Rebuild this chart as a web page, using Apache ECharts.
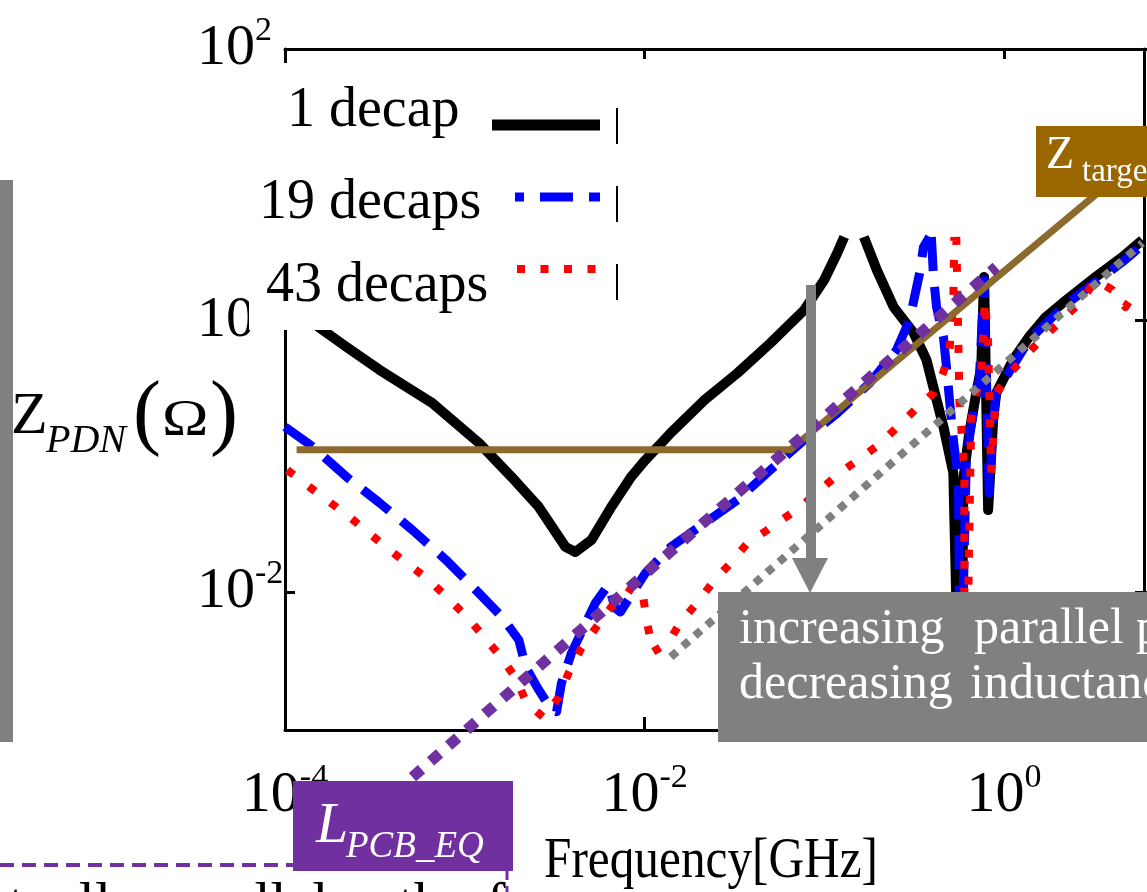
<!DOCTYPE html>
<html>
<head>
<meta charset="utf-8">
<title>Z_PDN vs frequency</title>
<script src="https://cdn.jsdelivr.net/npm/echarts@6.0.0/dist/echarts.min.js"></script>
<style>
  html, body { margin: 0; padding: 0; background: #fff; }
  #chart { width: 1147px; height: 892px; }
</style>
</head>
<body>
<div id="chart"></div>
<script>
'use strict'

//------------------- Data (frequency in GHz, impedance in ohm) -------------------//
const seriesNames = ['1 decap', '19 decaps', '43 decaps']

const decap1Freq = [1.00e-4, 1.62e-4, 2.20e-4, 3.36e-4, 6.59e-4, 1.20e-3, 1.82e-3, 2.58e-3, 3.63e-3, 4.12e-3,
  5.06e-3, 6.53e-3, 8.41e-3, 1.01e-2, 1.40e-2, 2.16e-2, 3.29e-2, 5.01e-2, 7.73e-2, 0.0998,
  0.118, 0.129, 0.145, 0.166, 0.196, 0.243, 0.314, 0.370, 0.460, 0.522,
  0.528, 0.542, 0.557, 0.586, 0.593, 0.640, 0.700, 0.746, 0.774, 0.815,
  0.869, 0.904, 1.122, 1.374, 1.706, 2.118, 3.228, 4.550, 5.875]
const decap1Z = [1.365, 0.865, 0.649, 0.440, 0.252, 0.128, 0.0721, 0.0434, 0.0221, 0.0203,
  0.0248, 0.0434, 0.0721, 0.0959, 0.152, 0.265, 0.418, 0.693, 1.213, 2.014,
  3.177, 4.169, null, 4.169, 2.382, 1.276, 0.822, 0.521, 0.168, 0.0771,
  0.0392, 0.00899, 0.00355, 0.00891, 0.0686, 0.152, 0.298, 0.462, 2.118, 0.0412,
  0.189, 0.298, 0.521, 0.767, 1.076, 1.365, 2.118, 2.972, 3.963]

const decap19Freq = [1.00e-4, 1.43e-4, 2.20e-4, 3.36e-4, 5.11e-4, 7.87e-4, 1.20e-3, 1.61e-3, 2.00e-3, 2.18e-3,
  2.58e-3, 3.04e-3, 3.24e-3, 3.45e-3, 3.92e-3, 5.32e-3, 6.28e-3, 6.87e-3, 7.33e-3, 1.01e-2,
  1.40e-2, 2.16e-2, 3.29e-2, 5.01e-2, 7.73e-2, 0.118, 0.179, 0.252, 0.298, 0.339,
  0.356, 0.385, 0.389, 0.394, 0.405, 0.421, 0.460, 0.478, 0.497, 0.522,
  0.557, 0.564, 0.578, 0.593, 0.617, 0.673, 0.728, 0.774, 0.826, 0.869,
  0.904, 1.374, 2.118, 3.228, 4.550, 5.875]
const decap19Z = [0.168, 0.120, 0.0721, 0.0465, 0.0294, 0.0177, 0.0101, 0.00676, 0.00457, 0.00290,
  0.00197, 0.00140, 0.00136, 0.00221, 0.00367, 0.00855, 0.0116, 0.00787, 0.00735, 0.0142,
  0.0221, 0.0331, 0.0489, 0.0811, 0.135, 0.212, 0.353, 0.617, 1.023, 2.265,
  3.516, 4.169, null, 4.169, 2.118, 1.276, 0.767, 0.462, 0.265, 0.135,
  0.0686, 0.0101, 0.00457, 0.0101, 0.101, 0.212, 0.372, 2.014, 0.0550, 0.189,
  0.298, 0.729, 1.276, 1.945, 2.729, 3.639]

const decap43Freq = [1.03e-4, 1.37e-4, 2.29e-4, 3.81e-4, 6.34e-4, 1.03e-3, 1.59e-3, 1.92e-3, 2.21e-3, 2.74e-3,
  3.32e-3, 3.78e-3, 4.46e-3, 5.40e-3, 6.53e-3, 7.60e-3, 8.63e-3, 9.82e-3, 1.04e-2, 1.11e-2,
  1.35e-2, 1.59e-2, 1.98e-2, 2.45e-2, 3.01e-2, 3.74e-2, 4.82e-2, 7.35e-2, 0.122, 0.201,
  0.318, 0.405, 0.460, 0.497, 0.522, 0.528, 0.535, 0.542, 0.557, 0.564,
  0.601, 0.601, 0.601, 0.617, 0.632, 0.656, 0.700, 0.746, 0.783, 0.815,
  0.847, 0.881, 0.904, 1.094, 1.358, 1.663, 2.148, 2.667, 3.228, 4.009,
  4.732, 5.585]
const decap43Z = [0.0811, 0.0608, 0.0366, 0.0210, 0.0126, 0.00676, 0.00344, 0.00241, 0.00158, 0.00124,
  0.00172, 0.00262, 0.00400, 0.00570, 0.00800, 0.00899, 0.0116, 0.00948, 0.00590, 0.00374,
  0.00436, 0.00621, 0.00871, 0.0126, 0.0168, 0.0236, 0.0294, 0.0434, 0.0771, 0.124,
  0.223, 0.298, 0.425, 0.617, 1.435, 4.169, null, 4.169, 0.693, 0.265,
  0.0771, 0.0294, 0.0101, 0.00457, 0.0101, 0.189, 0.298, 0.418, 1.435, 0.693,
  0.0771, 0.189, 0.298, 0.425, 0.586, 0.767, 1.059, 1.387, 2.014, 1.702,
  1.276, 1.791]

// Z_target line, L_PCB_EQ line, and the grey slope reference
const targetFreq = [1.16e-4, 6.47e-2, 4.17]
const targetZ = [0.114, 0.114, 11.3]
const pcbFreq = [4.06e-4, 0.904]
const pcbZ = [3.45e-4, 2.51]
const slopeFreq = [1.40e-2, 5.875]
const slopeZ = [3.44e-3, 3.77]

// tick labels
const freqTicks = [1e-4, 1e-2, 1]
const zTicks = [1e-2, 1, 1e2]

//------------------- Helpers -------------------//
const serif = 'Liberation Serif, Times New Roman, serif'

const toPoints = (freq, z) => freq.map((f, i) => [f, z[i] == null ? '-' : z[i]])

const powLabel = ticks => v => {
  const hit = ticks.find(t => Math.abs(Math.log10(v) - Math.log10(t)) < 1e-6)
  if (hit == null) return ''
  return `{b|10}{s|${Math.round(Math.log10(hit))}}`
}

const labelRich = {
  b: {fontFamily: serif, fontSize: 58, lineHeight: 70, color: '#000'},
  s: {fontFamily: serif, fontSize: 34, lineHeight: 14, verticalAlign: 'top', color: '#000'},
}

const axisLine = {show: true, onZero: false, lineStyle: {color: '#000', width: 3}}
const tick = len => ({show: true, inside: true, length: len, lineStyle: {color: '#000', width: 3}})

const text = (str, x, y, size, extra = {}) => ({
  type: 'text', x, y, z: extra.z || 110, silent: true,
  scaleX: extra.scaleX || 1,
  style: {
    text: str,
    fill: extra.color || '#000',
    font: `${extra.italic ? 'italic ' : ''}${size}px ${serif}`,
    textAlign: 'left', textVerticalAlign: 'middle', align: 'left', verticalAlign: 'middle',
  },
})
const rect = (x, y, w, h, fill, z) => ({type: 'rect', z, silent: true, shape: {x, y, width: w, height: h}, style: {fill}})
const seg = (x1, y1, x2, y2, style, z = 110) => ({
  type: 'line', z, silent: true, shape: {x1, y1, x2, y2},
  style: Object.assign({lineCap: 'butt'}, style),
})

//------------------- Annotations -------------------//
const legendRows = [
  {tx: 287, ty: 111, x1: 492, x2: 600, y: 125, stroke: '#000', width: 11},
  {tx: 259, ty: 203, x1: 515, x2: 600, y: 197, stroke: '#0000ff', width: 9, dash: [33, 16], offset: 24},
  {tx: 266, ty: 286, x1: 517, x2: 597, y: 269, stroke: '#ff0000', width: 8, dash: [8, 15.5]},
]

const white = {color: '#fff', z: 131}

const graphics = [
  rect(0, 180, 13, 562, '#808080', 100),
  // legend box
  rect(249, 63, 367, 267, '#ffffff', 100),
  seg(617, 108, 617, 300, {stroke: '#000', lineWidth: 2, lineDash: [36, 42]}),
  ...legendRows.map((r, i) => text(seriesNames[i], r.tx, r.ty, 56)),
  ...legendRows.map(r => seg(r.x1, r.y, r.x2, r.y, {
    stroke: r.stroke, lineWidth: r.width, lineDash: r.dash || null, lineDashOffset: r.offset || 0,
  })),
  // y axis name
  text('Z', 11, 417, 60),
  text('PDN', 46, 441, 40, {italic: true}),
  text('(', 133, 417, 84),
  text('\u03A9', 162, 421, 50, {scaleX: 1.25}),
  text(')', 210, 417, 84),
  // x axis name
  text('Frequency[GHz]', 544, 862, 58, {scaleX: 0.85}),
  // arrow
  rect(806, 285, 10, 275, '#808080', 120),
  {type: 'polygon', z: 120, silent: true, shape: {points: [[792, 558], [828, 558], [810, 593]]}, style: {fill: '#808080'}},
  // grey note box
  rect(718, 592, 440, 150, '#808080', 130),
  text('increasing', 739, 630, 50, white),
  text('parallel', 974, 630, 50, white),
  text('paths', 1136, 630, 50, white),
  text('decreasing', 739, 685, 50, white),
  text('inductance', 970, 685, 50, white),
  // Z_target box
  rect(1036, 126, 120, 71, '#996600', 130),
  text('Z', 1046, 156, 46, white),
  text('target', 1082, 172, 33, white),
  // L_PCB_EQ box
  seg(0, 865, 293, 865, {stroke: '#7030a0', lineWidth: 4, lineDash: [14, 8]}),
  seg(507, 871, 507, 892, {stroke: '#7030a0', lineWidth: 3, lineDash: [9, 6]}),
  rect(293, 781, 220, 90, '#7030a0', 130),
  text('L', 316, 827, 58, {color: '#fff', italic: true, z: 131}),
  text('PCB_EQ', 346, 847, 37, {color: '#fff', italic: true, z: 131}),
  // caption cut off by the bottom edge
  text('tually parallel path of', 8, 907, 58),
]

//------------------- Chart -------------------//
const chart = echarts.init(document.getElementById('chart'))

const logX = {type: 'log', logBase: 10, min: 1e-4, max: 6, interval: 2, splitLine: {show: false}}
const logY = {type: 'log', logBase: 10, min: 1e-3, max: 100, splitLine: {show: false}}
const logYTicks = {type: 'log', logBase: 10, min: 1e-2, max: 100, interval: 2, splitLine: {show: false}}

const tickLabel = ticks => ({
  color: '#000', fontFamily: serif, fontSize: 58,
  formatter: powLabel(ticks), rich: labelRich,
})

chart.setOption({
  animation: false,
  backgroundColor: '#fff',
  textStyle: {fontFamily: serif},
  grid: [
    {left: 285, top: 49, width: 864, height: 681},
    // same plot, cut at 10^-2 so the decade ticks fall on even powers
    {left: 285, top: 49, width: 864, height: 543},
  ],
  xAxis: [
    {...logX, gridIndex: 0, position: 'bottom', axisLine, axisTick: tick(13),
      axisLabel: {...tickLabel(freqTicks), margin: 31}},
    {...logX, gridIndex: 0, position: 'top', axisLine, axisTick: tick(10), axisLabel: {show: false}},
    {...logX, gridIndex: 1, show: false},
  ],
  yAxis: [
    {...logY, gridIndex: 0, position: 'left', axisLine, axisTick: {show: false}, axisLabel: {show: false}},
    {...logY, gridIndex: 0, position: 'right', axisLine, axisTick: {show: false}, axisLabel: {show: false}},
    {...logYTicks, gridIndex: 1, position: 'left', axisLine: {show: false}, axisTick: tick(10),
      axisLabel: {...tickLabel(zTicks), align: 'left', margin: 88}},
    {...logYTicks, gridIndex: 1, position: 'right', axisLine: {show: false}, axisTick: tick(12), axisLabel: {show: false}},
  ],
  series: [
    {name: seriesNames[0], type: 'line', xAxisIndex: 0, yAxisIndex: 0, z: 2, symbol: 'none', silent: true,
      data: toPoints(decap1Freq, decap1Z),
      lineStyle: {color: '#000000', width: 10, cap: 'butt', join: 'round'}},
    {name: seriesNames[1], type: 'line', xAxisIndex: 0, yAxisIndex: 0, z: 3, symbol: 'none', silent: true,
      data: toPoints(decap19Freq, decap19Z),
      lineStyle: {color: '#0000ff', width: 9, type: [34, 16], cap: 'butt', join: 'round'}},
    {name: seriesNames[2], type: 'line', xAxisIndex: 0, yAxisIndex: 0, z: 4, symbol: 'none', silent: true,
      data: toPoints(decap43Freq, decap43Z),
      lineStyle: {color: '#ff0000', width: 8, type: [8, 19], cap: 'butt', join: 'round'}},
    {name: 'slope', type: 'line', xAxisIndex: 0, yAxisIndex: 0, z: 5, symbol: 'none', silent: true,
      data: toPoints(slopeFreq, slopeZ),
      lineStyle: {color: '#808080', width: 8, type: [8, 8], cap: 'butt'}},
    {name: 'Z_target', type: 'line', xAxisIndex: 0, yAxisIndex: 0, z: 6, symbol: 'none', silent: true,
      data: toPoints(targetFreq, targetZ),
      lineStyle: {color: '#8c6a2e', width: 7, cap: 'butt', join: 'miter'}},
    {name: 'L_PCB_EQ', type: 'line', xAxisIndex: 0, yAxisIndex: 0, z: 7, symbol: 'none', silent: true, clip: false,
      data: toPoints(pcbFreq, pcbZ),
      lineStyle: {color: '#7030a0', width: 11, type: [12, 12], cap: 'butt'}},
  ],
  graphic: graphics,
})
</script>
</body>
</html>
